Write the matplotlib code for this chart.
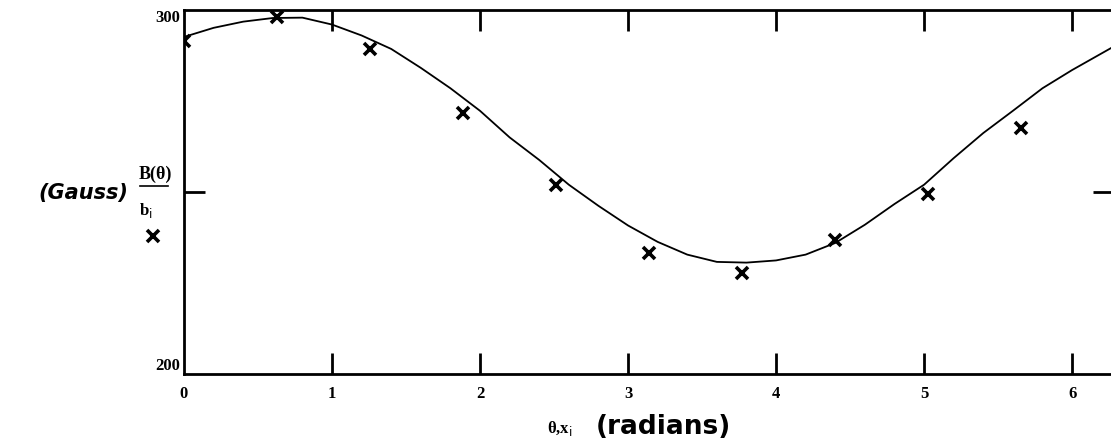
import numpy as np
import matplotlib
matplotlib.use('Agg')
import matplotlib.pyplot as plt
from matplotlib.lines import Line2D

# measured points b_i at x_i (10 samples over one turn)
x_i = np.arange(10) * 2 * np.pi / 10
b_i = [291.5, 298.1, 289.3, 271.7, 251.9, 233.2, 227.7, 236.8, 249.5, 267.6]

# fitted curve B(theta)
theta = [0.0, 0.2, 0.4, 0.6, 0.8, 1.0, 1.2, 1.4, 1.6, 1.8, 2.0, 2.2, 2.4, 2.6,
         2.8, 3.0, 3.2, 3.4, 3.6, 3.8, 4.0, 4.2, 4.4, 4.6, 4.8, 5.0, 5.2, 5.4,
         5.6, 5.8, 6.0, 6.283]
B = [292.6, 295.1, 296.8, 297.8, 297.9, 296.0, 293.0, 289.3, 284.1, 278.5,
     272.3, 265.0, 258.8, 252.0, 246.2, 240.8, 236.3, 232.8, 230.8, 230.6,
     231.2, 232.8, 236.0, 241.0, 246.7, 252.0, 259.3, 266.2, 272.3, 278.5,
     283.5, 290.0]

x_ticks = [0, 1, 2, 3, 4, 5, 6]
y_ticks = [200, 250, 300]
y_ticklabels = ['200', '', '300']

fig = plt.figure(figsize=(11.11, 4.45), dpi=100)
ax = fig.add_axes([184 / 1111, 71 / 445, 930 / 1111, 364 / 445])

ax.plot(theta, B, color='black', linewidth=1.3)
ax.plot(x_i, b_i, linestyle='none', marker='x', color='black',
        markersize=9, markeredgewidth=2.6)

ax.set_xlim(0, 2 * np.pi)
ax.set_ylim(200, 300)

for sp in ax.spines.values():
    sp.set_linewidth(2)

ax.set_xticks(x_ticks)
ax.set_yticks(y_ticks)
ax.set_yticklabels(y_ticklabels)
ax.tick_params(direction='in', length=15, width=2, top=True, right=True,
               labelsize=12)
ax.tick_params(axis='x', pad=9)
ax.tick_params(axis='y', pad=3)
for lab in ax.get_xticklabels() + ax.get_yticklabels():
    lab.set_fontfamily('Liberation Serif')
    lab.set_fontweight('bold')
# labels of the axis ends sit inside the frame, as in Mathcad
yl = ax.get_yticklabels()
yl[0].set_verticalalignment('bottom')
yl[2].set_verticalalignment('top')
for t in [ax.xaxis.get_major_ticks()[0], ax.yaxis.get_major_ticks()[0],
          ax.yaxis.get_major_ticks()[2]]:
    t.tick1line.set_visible(False)
    t.tick2line.set_visible(False)

# y axis label in Mathcad style: trace legend
fig.text(38 / 1111, 1 - 193 / 445, '(Gauss)', fontsize=15, fontweight='bold',
         fontstyle='italic', va='center', ha='left', family='DejaVu Sans')
fig.text(139 / 1111, 1 - 174 / 445, 'B(θ)', fontsize=13,
         fontweight='bold', va='center', ha='left', family='Liberation Serif')
fig.lines.append(Line2D([140 / 1111, 168 / 1111], [1 - 186 / 445, 1 - 186 / 445],
                        transform=fig.transFigure, color='black', linewidth=1.2))
fig.text(139 / 1111, 1 - 211 / 445, r'b$_{\rm i}$', fontsize=12,
         fontweight='bold', va='center', ha='left', family='Liberation Serif')
fig.lines.append(Line2D([153 / 1111], [1 - 236 / 445], transform=fig.transFigure,
                        marker='x', color='black', markersize=9,
                        markeredgewidth=2.6, linestyle='none'))

# x axis label
fig.text(547 / 1111, 1 - 428 / 445, r'θ,x$_{\rm i}$', fontsize=12,
         fontweight='bold', va='center', ha='left', family='Liberation Serif')
fig.text(596 / 1111, 1 - 427 / 445, '(radians)', fontsize=19, fontweight='bold',
         va='center', ha='left', family='DejaVu Sans')

fig.savefig('out.png', dpi=100)
